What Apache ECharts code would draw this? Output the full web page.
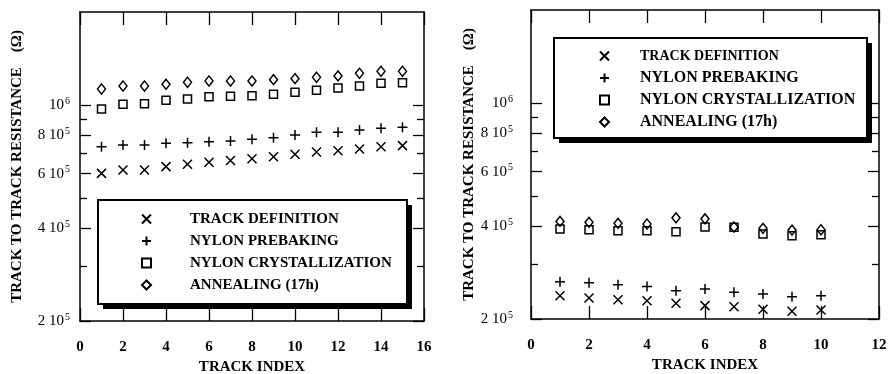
<!DOCTYPE html>
<html><head><meta charset="utf-8">
<script src="https://cdn.jsdelivr.net/npm/echarts@6/dist/echarts.min.js"></script>
<style>html,body{margin:0;padding:0;background:#fff}#c{width:888px;height:374px}</style>
</head><body><div id="c"></div>
<script>
// ---- data ----
const trackIndexA = [1,2,3,4,5,6,7,8,9,10,11,12,13,14,15];
const defA      = [6.01e5,6.16e5,6.16e5,6.32e5,6.43e5,6.53e5,6.61e5,6.70e5,6.80e5,6.93e5,7.05e5,7.11e5,7.21e5,7.33e5,7.39e5];
const prebakeA  = [7.33e5,7.42e5,7.42e5,7.52e5,7.55e5,7.61e5,7.65e5,7.75e5,7.84e5,8.00e5,8.16e5,8.16e5,8.30e5,8.41e5,8.47e5];
const crystA    = [9.71e5,1.005e6,1.010e6,1.036e6,1.046e6,1.064e6,1.067e6,1.072e6,1.083e6,1.099e6,1.116e6,1.135e6,1.152e6,1.176e6,1.181e6];
const annealA   = [1.127e6,1.152e6,1.152e6,1.167e6,1.185e6,1.196e6,1.196e6,1.196e6,1.208e6,1.217e6,1.230e6,1.242e6,1.267e6,1.286e6,1.286e6];

const trackIndexB = [1,2,3,4,5,6,7,8,9,10];
const defB      = [2.38e5,2.34e5,2.31e5,2.29e5,2.25e5,2.21e5,2.19e5,2.15e5,2.12e5,2.14e5];
const prebakeB  = [2.64e5,2.62e5,2.58e5,2.55e5,2.47e5,2.50e5,2.44e5,2.41e5,2.36e5,2.38e5];
const crystB    = [3.91e5,3.89e5,3.86e5,3.86e5,3.83e5,3.97e5,3.96e5,3.77e5,3.72e5,3.75e5];
const annealB   = [4.14e5,4.11e5,4.08e5,4.06e5,4.25e5,4.22e5,3.97e5,3.93e5,3.88e5,3.89e5];

const seriesNames = ['TRACK DEFINITION','NYLON PREBAKING','NYLON CRYSTALLIZATION','ANNEALING (17h)'];
const yMajorTicks = [2e5,4e5,6e5,8e5,1e6];
const yMinorTicks = [3e5,5e5,7e5,9e5];
const xNameText = 'TRACK INDEX';
const yNameText = 'TRACK TO TRACK RESISTANCE    (\u03A9)';

// ---- styling ----
const FONT = 'Liberation Serif';
const symbolDefs = [
  {symbol:'path://M0,0L10,10M10,0L0,10', size:9},
  {symbol:'path://M5,0L5,10M0,5L10,5', size:10},
  {symbol:'rect', size:8},
  {symbol:'diamond', size:[8,10]}
];
function pairs(xs, ys){ return xs.map((x,i)=>[x, ys[i]]); }

function yLabelFmt(v){
  if (Math.abs(v-1e6) < 1) return '{m|10}{s|6}';
  return '{m|' + Math.round(v/1e5) + ' 10}{s|5}';
}
const yRich = {
  m:{fontFamily:FONT, fontSize:15, color:'#000', lineHeight:18},
  s:{fontFamily:FONT, fontSize:10, color:'#000', verticalAlign:'top', lineHeight:18, padding:[0,0,0,1]}
};

function xAxes(gi, max, showLabel, pos, name){
  return {
    gridIndex:gi, type:'value', min:0, max:max, interval:2, position:pos,
    name: name || '', nameLocation:'middle', nameGap:37,
    nameTextStyle:{fontFamily:FONT, fontWeight:'bold', fontSize:15, color:'#000'},
    axisLine:{show:true, onZero:false, lineStyle:{color:'#000', width:1.5}},
    axisTick:{show:true, inside:true, length:13, lineStyle:{color:'#000', width:1.3}},
    axisLabel:{show:showLabel, margin:19, fontFamily:FONT, fontWeight:'bold', fontSize:15, color:'#000'},
    splitLine:{show:false}
  };
}
function yAxes(gi, pos, major, labelMargin, nameGap){
  const o = {
    gridIndex:gi, type:'log', logBase:10, min:2e5, max:2e6, position:pos,
    axisLine:{show:major, onZero:false, lineStyle:{color:'#000', width:1.5}},
    axisTick:{show:true, inside:true, length: major?11:7, customValues: major?yMajorTicks:yMinorTicks,
              lineStyle:{color:'#000', width:1.3}},
    axisLabel:{show:false},
    splitLine:{show:false}, minorTick:{show:false}
  };
  if (major && pos==='left'){
    o.axisLabel = {show:true, customValues:yMajorTicks, margin:labelMargin, formatter:yLabelFmt, rich:yRich};
    o.name = yNameText; o.nameLocation='middle'; o.nameGap=nameGap; o.nameRotate=90;
    o.nameTextStyle = {fontFamily:FONT, fontWeight:'bold', fontSize:15, color:'#000'};
  }
  return o;
}

const grids = [
  {left:80, right:464, top:12, bottom:53, outerBoundsMode:'none', containLabel:false},
  {left:531, right:9, top:10, bottom:55, outerBoundsMode:'none', containLabel:false}
];

const xAxis = [
  xAxes(0,16,true,'bottom',xNameText), xAxes(0,16,false,'top'),
  xAxes(1,12,true,'bottom',xNameText), xAxes(1,12,false,'top')
];
const yAxis = [
  yAxes(0,'left',true,10,55), yAxes(0,'right',true), yAxes(0,'left',false), yAxes(0,'right',false),
  yAxes(1,'left',true,18,51), yAxes(1,'right',true), yAxes(1,'left',false), yAxes(1,'right',false)
];

const setA = [defA, prebakeA, crystA, annealA];
const setB = [defB, prebakeB, crystB, annealB];
const series = [];
function addSeries(set, xs, xi, yi){
  set.forEach((vals, k)=>{
    series.push({
      type:'scatter', name:seriesNames[k], xAxisIndex:xi, yAxisIndex:yi,
      data:pairs(xs, vals), symbol:symbolDefs[k].symbol, symbolSize:symbolDefs[k].size,
      itemStyle:{color:'rgba(0,0,0,0)', borderColor:'#000', borderWidth:1.5, opacity:1},
      emphasis:{disabled:true}, z:2
    });
  });
}
addSeries(setA, trackIndexA, 0, 0);
addSeries(setB, trackIndexB, 2, 4);

function legendComp(left, top, firstSize, restSize, pad){
  return {
    orient:'vertical', left:left, top:top, padding:0, itemGap:6,
    itemWidth:9, itemHeight:9, selectedMode:false, z:10,
    data: seriesNames.map((n)=>({name:n})),
    formatter: function(name){ return '{' + (name===seriesNames[0]?'f':'r') + '|' + name + '}'; },
    textStyle:{fontFamily:FONT, fontWeight:'bold', color:'#000', lineHeight:16,
      rich:{
        f:{fontFamily:FONT, fontWeight:'bold', fontSize:firstSize, color:'#000', lineHeight:16, padding:[0,0,0,pad]},
        r:{fontFamily:FONT, fontWeight:'bold', fontSize:restSize, color:'#000', lineHeight:16, padding:[0,0,0,pad]}
      }}
  };
}
const legend = [ legendComp(141, 211, 15, 15, 34), legendComp(599, 48, 14, 16, 26) ];

function box(x,y,w,h){
  return [
    {type:'rect', z:5, shape:{x:x+5, y:y+5, width:w, height:h}, style:{fill:'#000'}},
    {type:'rect', z:6, shape:{x:x, y:y, width:w, height:h}, style:{fill:'#fff', stroke:'#000', lineWidth:2}}
  ];
}
const graphic = [].concat(box(98,200,309,104), box(554,38,313,100));

const chart = echarts.init(document.getElementById('c'), null, {renderer:'canvas'});
chart.setOption({
  animation:false, backgroundColor:'#fff',
  grid:grids, xAxis:xAxis, yAxis:yAxis, series:series, legend:legend, graphic:graphic
});
</script></body></html>
